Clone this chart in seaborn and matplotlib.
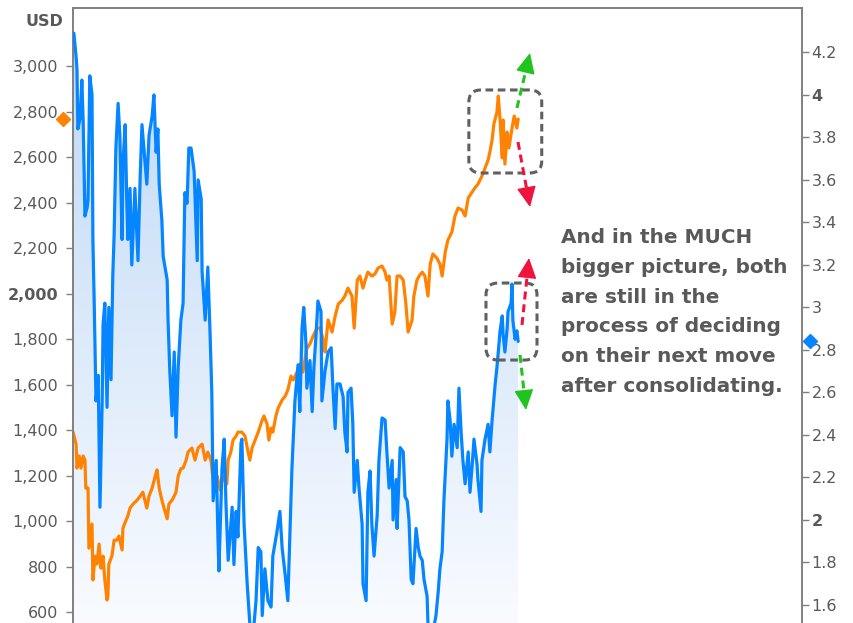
import numpy as np
import matplotlib
matplotlib.use('Agg')
import matplotlib.pyplot as plt
import matplotlib.transforms as mtransforms
from matplotlib.patches import FancyBboxPatch, Polygon, FancyArrowPatch
from matplotlib.colors import LinearSegmentedColormap
import seaborn as sns
import pandas as pd

# ---- data (x in decimal years) ----
orange_years = [
    2008.40, 2008.47, 2008.49, 2008.54, 2008.58, 2008.63, 2008.67, 2008.69, 2008.74, 2008.76,
    2008.83, 2008.85, 2008.90, 2008.94, 2008.99, 2009.03, 2009.08, 2009.12, 2009.17, 2009.19,
    2009.21, 2009.28, 2009.33, 2009.39, 2009.44, 2009.51, 2009.53, 2009.60, 2009.64, 2009.69,
    2009.76, 2009.85, 2009.92, 2009.98, 2010.07, 2010.12, 2010.19, 2010.26, 2010.30, 2010.35,
    2010.41, 2010.46, 2010.53, 2010.57, 2010.64, 2010.69, 2010.73, 2010.78, 2010.84, 2010.89,
    2010.96, 2011.00, 2011.09, 2011.16, 2011.23, 2011.32, 2011.39, 2011.45, 2011.52, 2011.57,
    2011.66, 2011.73, 2011.79, 2011.88, 2011.91, 2011.97, 2012.02, 2012.09, 2012.13, 2012.22,
    2012.29, 2012.36, 2012.40, 2012.45, 2012.52, 2012.59, 2012.68, 2012.72, 2012.79, 2012.83,
    2012.88, 2012.92, 2012.99, 2013.04, 2013.13, 2013.20, 2013.26, 2013.33, 2013.38, 2013.47,
    2013.53, 2013.60, 2013.69, 2013.76, 2013.83, 2013.92, 2013.99, 2014.06, 2014.10, 2014.17,
    2014.26, 2014.33, 2014.40, 2014.49, 2014.55, 2014.62, 2014.71, 2014.76, 2014.83, 2014.89,
    2014.96, 2015.01, 2015.07, 2015.16, 2015.23, 2015.30, 2015.39, 2015.46, 2015.50, 2015.55,
    2015.62, 2015.68, 2015.73, 2015.80, 2015.87, 2015.93, 2015.98, 2016.07, 2016.11, 2016.18,
    2016.23, 2016.30, 2016.36, 2016.43, 2016.48, 2016.54, 2016.63, 2016.70, 2016.75, 2016.82,
    2016.88, 2016.97, 2017.04, 2017.11, 2017.20, 2017.27, 2017.34, 2017.43, 2017.49, 2017.56,
    2017.65, 2017.72, 2017.79, 2017.83, 2017.88, 2017.92, 2017.99, 2018.02, 2018.06, 2018.11,
    2018.13, 2018.17, 2018.22, 2018.26, 2018.33, 2018.38, 2018.44, 2018.47]
orange_usd = [
    1391, 1338, 1233, 1286, 1233, 1286, 1268, 1145, 1145, 881,
    987, 741, 846, 811, 899, 793, 846, 741, 653, 670,
    811, 846, 916, 916, 934, 873, 969, 1004, 1022, 1057,
    1075, 1092, 1110, 1127, 1057, 1110, 1145, 1198, 1225, 1145,
    1092, 1057, 1010, 1075, 1092, 1110, 1127, 1198, 1230, 1233,
    1268, 1303, 1321, 1268, 1321, 1338, 1268, 1303, 1268, 1180,
    1198, 1136, 1198, 1163, 1268, 1303, 1356, 1374, 1391, 1391,
    1374, 1303, 1268, 1321, 1356, 1391, 1444, 1462, 1426, 1356,
    1409, 1391, 1462, 1497, 1532, 1549, 1576, 1637, 1620, 1655,
    1690, 1655, 1760, 1778, 1813, 1848, 1848, 1796, 1743, 1884,
    1831, 1901, 1954, 1971, 1989, 2024, 1989, 1848, 2059, 2077,
    2024, 2059, 2094, 2077, 2086, 2112, 2121, 2094, 2059, 2077,
    1866, 1919, 2077, 2077, 2059, 1954, 1831, 1884, 1989, 2059,
    2077, 2094, 2077, 1989, 2130, 2174, 2156, 2130, 2077, 2182,
    2235, 2270, 2341, 2376, 2367, 2341, 2420, 2446, 2464, 2481,
    2516, 2552, 2587, 2622, 2675, 2745, 2798, 2868, 2763, 2596,
    2763, 2569, 2710, 2640, 2727, 2780, 2727, 2767]

blue_years = [
    2008.42, 2008.47, 2008.49, 2008.51, 2008.56, 2008.60, 2008.63, 2008.67, 2008.72, 2008.74,
    2008.78, 2008.83, 2008.85, 2008.88, 2008.92, 2008.97, 2009.01, 2009.06, 2009.08, 2009.12,
    2009.17, 2009.21, 2009.26, 2009.30, 2009.33, 2009.37, 2009.42, 2009.46, 2009.51, 2009.53,
    2009.58, 2009.62, 2009.64, 2009.69, 2009.73, 2009.80, 2009.87, 2009.92, 2009.96, 2010.03,
    2010.07, 2010.12, 2010.19, 2010.23, 2010.28, 2010.32, 2010.35, 2010.41, 2010.44, 2010.53,
    2010.55, 2010.59, 2010.64, 2010.69, 2010.73, 2010.78, 2010.84, 2010.89, 2010.93, 2010.98,
    2011.02, 2011.07, 2011.14, 2011.21, 2011.23, 2011.30, 2011.32, 2011.39, 2011.45, 2011.50,
    2011.54, 2011.57, 2011.64, 2011.68, 2011.70, 2011.77, 2011.82, 2011.86, 2011.91, 2012.00,
    2012.04, 2012.09, 2012.13, 2012.20, 2012.22, 2012.27, 2012.34, 2012.40, 2012.47, 2012.54,
    2012.59, 2012.65, 2012.68, 2012.74, 2012.81, 2012.88, 2012.92, 2013.01, 2013.08, 2013.13,
    2013.20, 2013.26, 2013.31, 2013.35, 2013.42, 2013.49, 2013.53, 2013.58, 2013.62, 2013.67,
    2013.69, 2013.76, 2013.81, 2013.85, 2013.90, 2013.94, 2014.01, 2014.03, 2014.10, 2014.17,
    2014.24, 2014.28, 2014.33, 2014.37, 2014.44, 2014.51, 2014.55, 2014.60, 2014.62, 2014.69,
    2014.73, 2014.76, 2014.83, 2014.87, 2014.94, 2014.96, 2015.03, 2015.07, 2015.12, 2015.16,
    2015.21, 2015.28, 2015.32, 2015.39, 2015.46, 2015.50, 2015.55, 2015.62, 2015.64, 2015.71,
    2015.73, 2015.80, 2015.87, 2015.91, 2015.96, 2016.00, 2016.05, 2016.09, 2016.16, 2016.21,
    2016.25, 2016.30, 2016.34, 2016.41, 2016.43, 2016.50, 2016.54, 2016.61, 2016.66, 2016.70,
    2016.75, 2016.79, 2016.86, 2016.88, 2016.93, 2016.97, 2017.02, 2017.09, 2017.13, 2017.18,
    2017.22, 2017.27, 2017.34, 2017.38, 2017.43, 2017.47, 2017.54, 2017.56, 2017.63, 2017.65,
    2017.72, 2017.79, 2017.83, 2017.88, 2017.95, 2017.99, 2018.02, 2018.06, 2018.11, 2018.13,
    2018.17, 2018.22, 2018.24, 2018.31, 2018.33, 2018.35, 2018.40, 2018.44, 2018.47]
blue_yield = [
    4.29, 4.18, 4.12, 3.84, 3.89, 4.07, 3.88, 3.43, 3.47, 3.51,
    4.09, 4.00, 3.32, 3.02, 2.56, 2.68, 2.06, 2.56, 2.92, 3.02,
    2.53, 3.00, 2.66, 3.15, 3.34, 3.75, 3.96, 3.81, 3.32, 3.68,
    3.86, 3.47, 3.32, 3.56, 3.20, 3.56, 3.22, 3.62, 3.86, 3.68,
    3.58, 3.81, 3.90, 4.00, 3.73, 3.84, 3.58, 3.41, 3.24, 3.13,
    2.94, 2.70, 2.49, 2.79, 2.39, 2.72, 2.94, 3.02, 3.54, 3.49,
    3.75, 3.75, 3.64, 3.22, 3.60, 3.51, 3.17, 2.94, 3.19, 2.88,
    2.60, 2.09, 2.28, 1.91, 1.76, 2.24, 2.38, 2.08, 1.81, 2.06,
    1.79, 2.04, 1.92, 2.36, 2.38, 1.98, 1.70, 1.51, 1.45, 1.62,
    1.87, 1.85, 1.55, 1.77, 1.62, 1.59, 1.83, 1.94, 2.04, 1.87,
    1.74, 1.62, 1.96, 2.23, 2.56, 2.73, 2.51, 2.90, 3.00, 2.83,
    2.62, 2.75, 2.51, 2.72, 2.88, 3.03, 2.98, 2.56, 2.70, 2.79,
    2.81, 2.62, 2.43, 2.64, 2.64, 2.58, 2.41, 2.32, 2.60, 2.62,
    2.45, 2.13, 2.28, 2.15, 1.98, 1.70, 1.62, 2.13, 2.23, 1.98,
    1.83, 2.02, 2.28, 2.48, 2.47, 2.32, 2.15, 2.28, 2.00, 2.19,
    1.96, 2.34, 2.32, 2.11, 2.09, 2.00, 1.72, 1.70, 1.96, 1.87,
    1.83, 1.81, 1.72, 1.64, 1.51, 1.45, 1.47, 1.55, 1.66, 1.77,
    1.85, 2.09, 2.38, 2.56, 2.47, 2.30, 2.45, 2.34, 2.62, 2.41,
    2.28, 2.17, 2.32, 2.13, 2.26, 2.38, 2.26, 2.19, 2.04, 2.28,
    2.38, 2.45, 2.32, 2.47, 2.64, 2.72, 2.79, 2.89, 2.96, 2.87,
    2.79, 2.90, 2.98, 3.02, 3.11, 2.94, 2.85, 2.89, 2.84]

left_ticks = [600, 800, 1000, 1200, 1400, 1600, 1800, 2000, 2200, 2400, 2600, 2800, 3000]
right_ticks = [1.6, 1.8, 2.0, 2.2, 2.4, 2.6, 2.8, 3.0, 3.2, 3.4, 3.6, 3.8, 4.0, 4.2]

note_lines = ['And in the MUCH', 'bigger picture, both', 'are still in the',
              'process of deciding', 'on their next move', 'after consolidating.']

ORANGE = '#ff8300'
BLUE = '#0585ff'
GREY_TXT = '#595959'
SPINE = '#808080'
GREEN = '#1fc41f'
RED = '#f0133f'

sns.set_style('ticks')
plt.rcParams['font.family'] = ['DejaVu Sans']

df_orange = pd.DataFrame({'year': orange_years, 'usd': orange_usd})
df_blue = pd.DataFrame({'year': blue_years, 'yield': blue_yield})

fig = plt.figure(figsize=(8.54, 6.23), dpi=100)
ax = fig.add_axes([73 / 854, 0, 729 / 854, 615 / 623])
ax2 = ax.twinx()
AX_W, AX_H = 729, 615  # axes size in pixels

# gradient fill under the blue line (clipped to the area below it)
verts = list(zip(blue_years, blue_yield)) + [(blue_years[-1], 0.5), (blue_years[0], 0.5)]
clip_poly = Polygon(verts, closed=True, transform=ax2.transData)
grad_cmap = LinearSegmentedColormap.from_list('fillgrad', ['#bcd7f5', '#f9fbff'])
im = ax.imshow(np.linspace(0, 1, 256).reshape(-1, 1), cmap=grad_cmap, aspect='auto',
               extent=[0, 1, 0, 1], transform=ax.transAxes, zorder=1, interpolation='bicubic')
im.set_clip_path(clip_poly)

sns.lineplot(data=df_orange, x='year', y='usd', ax=ax, color=ORANGE, lw=2.3,
             estimator=None, sort=False, zorder=3)
sns.lineplot(data=df_blue, x='year', y='yield', ax=ax2, color=BLUE, lw=2.3,
             estimator=None, sort=False, zorder=3)

ax.set_xlim(2008.40, 2024.89)
ax.set_ylim(552, 3255)
ax2.set_ylim(1.515, 4.409)
for a in (ax, ax2):
    a.set_xlabel('')
    a.set_ylabel('')
    a.set_xticks([])
    a.spines['bottom'].set_visible(False)
    for s in ('left', 'right', 'top'):
        a.spines[s].set_color(SPINE)
        a.spines[s].set_linewidth(1.2)

ax.set_yticks(left_ticks, [f'{v:,}' for v in left_ticks])
ax2.set_yticks(right_ticks, [f'{v:g}' for v in right_ticks])
ax.tick_params(axis='y', length=5, width=1, color=SPINE, labelcolor=GREY_TXT,
               labelsize=11.5, pad=5.5)
ax2.tick_params(axis='y', length=5, width=1, color=SPINE, labelcolor=GREY_TXT,
                labelsize=11.5, pad=2)
for lbl in ax.get_yticklabels():
    if lbl.get_text() == '2,000':
        lbl.set_fontweight('bold')
for lbl in ax2.get_yticklabels():
    if lbl.get_text() in ('4', '2'):
        lbl.set_fontweight('bold')

# last-value markers on the axes
trans_l = mtransforms.blended_transform_factory(ax.transAxes, ax.transData)
ax.plot([-10 / AX_W], [orange_usd[-1]], marker='D', ms=7, color=ORANGE,
        transform=trans_l, clip_on=False, zorder=5)
trans_r = mtransforms.blended_transform_factory(ax2.transAxes, ax2.transData)
ax2.plot([1 + 8 / AX_W], [blue_yield[-1]], marker='D', ms=7, color=BLUE,
         transform=trans_r, clip_on=False, zorder=5)

fig.text(63 / 854, 1 - 21.5 / 623, 'USD', ha='right', va='center',
         fontsize=11.5, fontweight='bold', color=GREY_TXT)


# annotation boxes and arrows (axes fraction)
def dashed_box(x0, y0, x1, y1):
    box = FancyBboxPatch((x0, y0), x1 - x0, y1 - y0,
                         boxstyle='round,pad=0,rounding_size=0.0165',
                         mutation_aspect=AX_W / AX_H, transform=ax2.transAxes,
                         fill=False, edgecolor='#606060', lw=2.2,
                         linestyle=(0, (2.5, 1.5)), zorder=6)
    ax2.add_patch(box)


def dashed_arrow(p0, p1, color, head_px=18):
    # dashed shaft up to the base of the head, then a solid filled head
    dx = (p1[0] - p0[0]) * AX_W
    dy = (p1[1] - p0[1]) * AX_H
    n = np.hypot(dx, dy)
    base = (p1[0] - dx / n * head_px / AX_W, p1[1] - dy / n * head_px / AX_H)
    ax2.plot([p0[0], base[0]], [p0[1], base[1]], transform=ax2.transAxes,
             color=color, lw=2.2, linestyle=(0, (2.6, 1.6)), zorder=7,
             solid_capstyle='butt', dash_capstyle='butt')
    head = FancyArrowPatch(base, p1, arrowstyle='-|>,head_length=0.8,head_width=0.38',
                           mutation_scale=16, transform=ax2.transAxes, color=color,
                           lw=1, shrinkA=0, shrinkB=0, zorder=7)
    ax2.add_patch(head)


dashed_box(0.543, 0.7317, 0.643, 0.8667)
dashed_box(0.5665, 0.4276, 0.6365, 0.5528)
dashed_arrow((0.609, 0.8374), (0.6269, 0.9268), GREEN)
dashed_arrow((0.6104, 0.7821), (0.6269, 0.6764), RED)
dashed_arrow((0.6159, 0.4846), (0.6255, 0.5935), RED)
dashed_arrow((0.6132, 0.4358), (0.6214, 0.3463), GREEN)

baselines = [243, 272.8, 302.6, 332.4, 362.2, 392]
for line, b in zip(note_lines, baselines):
    fig.text(561 / 854, 1 - b / 623, line, ha='left', va='baseline',
             fontsize=14.4, fontweight='bold', color=GREY_TXT)

fig.savefig('out.png', dpi=100)
